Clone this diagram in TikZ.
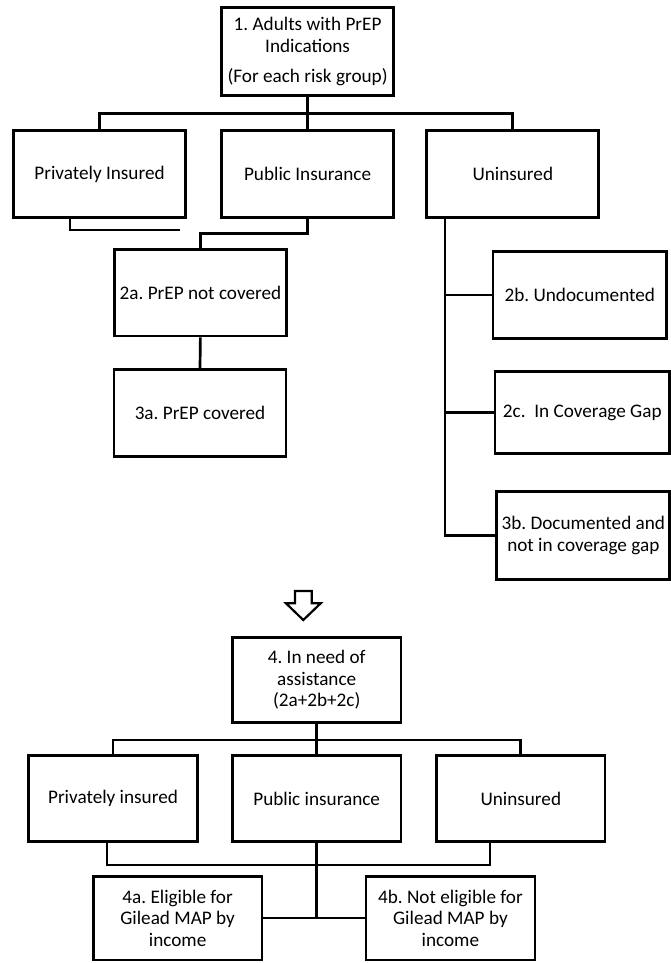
\documentclass[tikz,border=0pt]{standalone}
\usepackage{fontspec}
\setmainfont{Carlito}
\usetikzlibrary{calc}
\begin{document}
\frenchspacing
\begin{tikzpicture}[x=1pt,y=-1pt,
  box/.style={draw, line width=2.7pt, align=center, inner sep=0pt,
    font=\fontsize{19.2}{21.5}\selectfont, minimum width=#1},
  box/.default=172pt,
  conn/.style={line width=2.7pt},
  thin/.style={line width=2.2pt}]
\useasboundingbox[fill=white] (0,0) rectangle (671,963);

% top part
\node[box, minimum height=88pt] (n1) at (307.6,51.5) {1. Adults with PrEP\\Indications\\[9pt](For each risk group)};
\node[box, minimum height=86.6pt] (priv) at (99.5,174) {Privately Insured};
\node[box, minimum height=86.6pt] (pub) at (307.6,174) {Public Insurance};
\node[box, minimum height=86.6pt] (unins) at (512.8,174) {Uninsured};
\node[box, minimum height=86.7pt] (n2a) at (200.4,292.7) {2a. PrEP not covered};
\node[box, minimum height=87.4pt] (n3a) at (200,413) {3a. PrEP covered};
\node[box=173.5pt, minimum height=86.6pt] (n2b) at (579.8,295) {2b. Undocumented};
\node[box=174.5pt, minimum height=81.6pt] (n2c) at (582.3,412.5) {2c.\ \ In Coverage Gap};
\node[box=173pt, minimum height=87.6pt] (n3b) at (583.3,535.5) {3b. Documented and\\not in coverage gap};

\coordinate (bus1) at (307.6,113.3);
\draw[conn] (n1.south) -- (bus1);
\draw[conn] (priv.north) |- (bus1) -| (unins.north);
\draw[conn] (bus1) -- (pub.north);

\coordinate (privend) at (180,230);
\draw[thin] ($(priv.south)+(-29.5,0)$) |- (privend);
\draw[conn] (pub.south) -- ++(0,14.5) -| (n2a.north);
\draw[conn] (n2a.south) -- (n3a.north);

\coordinate (uv) at ($(unins.south)+(-67.8,0)$);
\draw[conn] (uv) |- (n3b.west);
\draw[conn] (uv |- n2b.west) -- (n2b.west);
\draw[conn] (uv |- n2c.west) -- (n2c.west);

% arrow
\draw[line width=2.2pt, line join=miter] (295,591) -- (311.7,591) -- (311.7,603.3) -- (320.7,603.3) -- (303.3,620) -- (286,603.3) -- (295,603.3) -- cycle;

% bottom part
\node[box=168.7pt, minimum height=85.4pt] (n4) at (316.7,680) {4. In need of\\assistance\\(2a+2b+2c)};
\node[box=169.5pt, minimum height=86pt] (priv2) at (113,798.7) {Privately insured};
\node[box=168.7pt, minimum height=86pt] (pub2) at (316.7,798.7) {Public insurance};
\node[box=168.5pt, minimum height=86pt] (unins2) at (520.8,798.7) {Uninsured};
\node[box=168.6pt, minimum height=83.3pt] (n4a) at (177.6,918.3) {4a. Eligible for\\Gilead MAP by\\income};
\node[box=169pt, minimum height=83.3pt] (n4b) at (450.4,918.3) {4b. Not eligible for\\Gilead MAP by\\income};

\coordinate (bus2) at (316.7,740);
\draw[conn] (n4.south) -- (bus2);
\draw[conn] (priv2.north) |- (bus2) -| (unins2.north);
\draw[conn] (bus2) -- (pub2.north);

\draw[thin] ($(priv2.south)+(-6,0)$) |- ($(unins2.south)+(-30.8,21.6)$) -- ($(unins2.south)+(-30.8,0)$);
\draw[conn] (pub2.south) -- (pub2.south |- n4a.east);
\draw[thin] (n4a.east) -- (n4b.west);
\end{tikzpicture}
\end{document}
